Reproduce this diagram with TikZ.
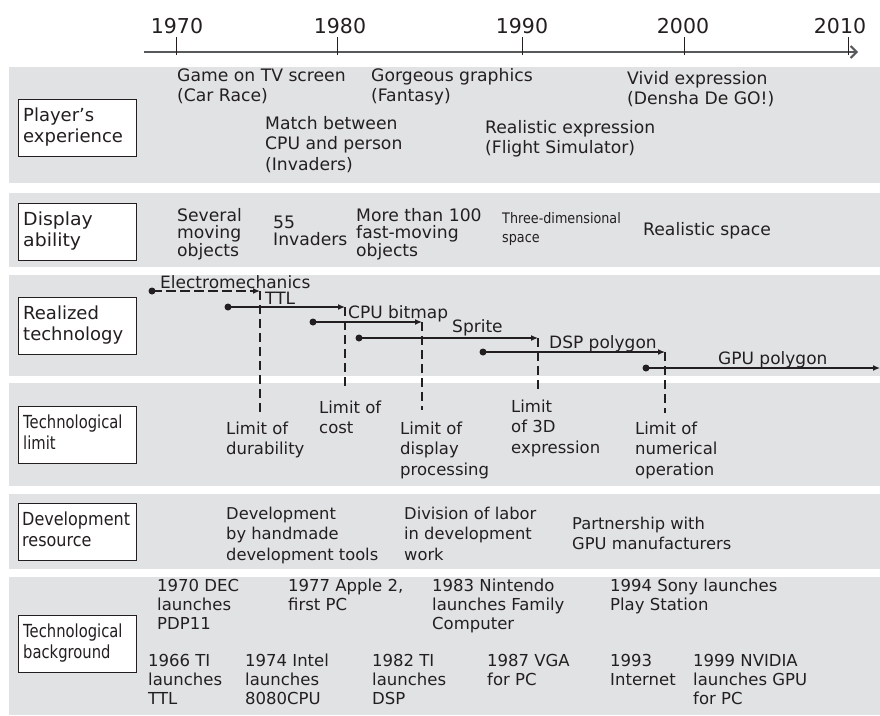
\documentclass[tikz,border=0pt]{standalone}
\usepackage{fontspec}
\usepackage{graphicx}
\setmainfont{DejaVu Sans}
\usetikzlibrary{arrows.meta}
\definecolor{bandgray}{HTML}{E1E2E4}
\definecolor{ink}{HTML}{231F20}
\definecolor{axisgray}{HTML}{58595B}
\newcommand\fs[2]{\fontsize{#1}{#2}\selectfont}
\newcommand\hx[2]{\scalebox{#1}[1]{\begin{tabular}{@{}l@{}}#2\end{tabular}}}
\begin{document}
\begin{tikzpicture}[x=1pt,y=-1pt,
  bandbox/.style={fill=bandgray,draw=none},
  hdr/.style={draw=ink,fill=white,line width=1.1pt,minimum width=118pt,minimum height=57pt,inner sep=0pt,anchor=north west},
  hdrtxt/.style={anchor=west,inner sep=0pt,text=ink,font=\fs{18}{20.5}},
  tb/.style={anchor=base west,align=left,inner sep=0pt,text=ink},
  t1/.style={tb,font=\fs{17.2}{20.5}},
  t2/.style={tb,font=\fs{17.2}{17.5}},
  t2s/.style={anchor=west,inner sep=0pt,text=ink,font=\fs{14.5}{19}},
  t3/.style={tb,font=\fs{17}{20}},
  t4/.style={tb,font=\fs{16.5}{20.5}},
  t5/.style={tb,font=\fs{16.3}{20.5}},
  t6/.style={tb,font=\fs{16.5}{19}},
  yr/.style={anchor=base,inner sep=0pt,text=ink,font=\fs{20.5}{22}},
  dot/.style={circle,fill=ink,inner sep=0pt,minimum size=7pt},
  techarrow/.style={draw=ink,line width=1.3pt,-{Latex[length=7pt,width=6pt]}},
  techdash/.style={techarrow,dash pattern=on 10pt off 4pt},
  limitline/.style={draw=ink,line width=1.2pt,dash pattern=on 9pt off 5pt},
  axisline/.style={draw=axisgray,line width=2pt,-{Straight Barb[length=6pt,width=12pt,line width=2pt]}},
  tickmark/.style={draw=ink,line width=1pt}]
\useasboundingbox (0,0) rectangle (880,715);
% bands
\fill[bandgray] (9,67) rectangle (880,183);
\fill[bandgray] (9,193) rectangle (880,267);
\fill[bandgray] (9,275) rectangle (880,376);
\fill[bandgray] (9,383) rectangle (880,486);
\fill[bandgray] (9,494) rectangle (880,569);
\fill[bandgray] (9,577) rectangle (880,715);
% axis
\coordinate (ax0) at (144,52);
\coordinate (ax1) at (858,52);
\draw[axisline] (ax0) -- (ax1);
\foreach \x/\y/\lx in {176/1970/177,337/1980/340,522/1990/522,684/2000/683,848/2010/840}{
  \coordinate (tk\y) at (\x,37);
  \coordinate (tb\y) at (\x,55);
  \draw[tickmark] (tk\y) -- (tb\y);
  \node[yr] (y\y) at (\lx,33) {\y};
}
% header boxes
\node[hdr] (h1) at (18,99) {};
\node[hdrtxt] (h1t) at ([xshift=5pt]h1.west) {\hx{1}{Player’s\\experience}};
\node[hdr] (h2) at (18,203) {};
\node[hdrtxt] (h2t) at ([xshift=5pt]h2.west) {\hx{1.05}{Display\\ability}};
\node[hdr] (h3) at (18,297) {};
\node[hdrtxt] (h3t) at ([xshift=5pt]h3.west) {\hx{1}{Realized\\technology}};
\node[hdr] (h4) at (18,406) {};
\node[hdrtxt] (h4t) at ([xshift=5pt]h4.west) {\hx{0.82}{Technological\\limit}};
\node[hdr] (h5) at (18,503) {};
\node[hdrtxt] (h5t) at ([xshift=4pt]h5.west) {\hx{0.89}{Development\\resource}};
\node[hdr] (h6) at (18,615) {};
\node[hdrtxt] (h6t) at ([xshift=5pt]h6.west) {\hx{0.82}{Technological\\background}};
% band 1 (anchor = baseline of last line)
\node[t1] (p1) at (177,101.5) {Game on TV screen\\(Car Race)};
\node[t1] (p2) at (371,101.5) {Gorgeous graphics\\(Fantasy)};
\node[t1] (p3) at (265,170) {Match between\\CPU and person\\(Invaders)};
\node[t1] (p4) at (485,153.5) {Realistic expression\\(Flight Simulator)};
\node[t1] (p5) at (627,104.5) {Vivid expression\\(Densha De GO!)};
% band 2
\node[t2] (d1) at (177,256) {Several\\moving\\objects};
\node[t2] (d2) at (273,245.5) {55\\Invaders};
\node[t2] (d3) at (356,256) {More than 100\\fast-moving\\objects};
\node[t2s] (d4) at (502,229) {\hx{0.88}{Three-dimensional\\space}};
\node[t2] (d5) at (643,235) {Realistic space};
% band 3
\node[dot] (s1) at (152,291) {};
\coordinate (e1) at (260,291);
\node[dot] (s2) at (228,307) {};
\coordinate (e2) at (345,307);
\node[dot] (s3) at (313,322) {};
\coordinate (e3) at (422,322);
\node[dot] (s4) at (359,338) {};
\coordinate (e4) at (538,338);
\node[dot] (s5) at (483,352) {};
\coordinate (e5) at (665,352);
\node[dot] (s6) at (646,368) {};
\coordinate (e6) at (880,368);
\draw[techdash] (s1.center) -- (e1);
\draw[techarrow] (s2.center) -- (e2);
\draw[techarrow] (s3.center) -- (e3);
\draw[techarrow] (s4.center) -- (e4);
\draw[techarrow] (s5.center) -- (e5);
\draw[techarrow] (s6.center) -- (e6);
\node[t3] (r1) at (160,288) {Electromechanics};
\node[t3] (r2) at (265,304) {TTL};
\node[t3] (r3) at (348,318) {CPU bitmap};
\node[t3] (r4) at (452,332) {Sprite};
\node[t3] (r5) at (549,348) {DSP polygon};
\node[t3] (r6) at (718,364) {GPU polygon};
% band 4
\node[t4] (l1) at (226,454.5) {Limit of\\durability};
\node[t4] (l2) at (319,433.5) {Limit of\\cost};
\node[t4] (l3) at (400,475) {Limit of\\display\\processing};
\node[t4] (l4) at (511,453) {Limit\\of 3D\\expression};
\node[t4] (l5) at (635,475) {Limit of\\numerical\\operation};
\coordinate (f1) at (260,412);
\coordinate (f2) at (345,390);
\coordinate (f3) at (422,410);
\coordinate (f4) at (538,390);
\coordinate (f5) at (665,413);
\draw[limitline] (e1) -- (f1);
\draw[limitline] (e2) -- (f2);
\draw[limitline] (e3) -- (f3);
\draw[limitline] (e4) -- (f4);
\draw[limitline] (e5) -- (f5);
% band 5
\node[t5] (v1) at (226,560) {Development\\by handmade\\development tools};
\node[t5] (v2) at (404,560) {Division of labor\\in development\\work};
\node[t5] (v3) at (572,549.5) {Partnership with\\GPU manufacturers};
% band 6
\node[t6] (g1) at (157,629) {1970 DEC\\launches\\PDP11};
\node[t6] (g2) at (288,610) {1977 Apple 2,\\first PC};
\node[t6] (g3) at (432,629) {1983 Nintendo\\launches Family\\Computer};
\node[t6] (g4) at (610,610) {1994 Sony launches\\Play Station};
\node[t6] (g5) at (148,704) {1966 TI\\launches\\TTL};
\node[t6] (g6) at (245,704) {1974 Intel\\launches\\8080CPU};
\node[t6] (g7) at (372,704) {1982 TI\\launches\\DSP};
\node[t6] (g8) at (487,685) {1987 VGA\\for PC};
\node[t6] (g9) at (610,685) {1993\\Internet};
\node[t6] (g10) at (693,704) {1999 NVIDIA\\launches GPU\\for PC};
\end{tikzpicture}
\end{document}
